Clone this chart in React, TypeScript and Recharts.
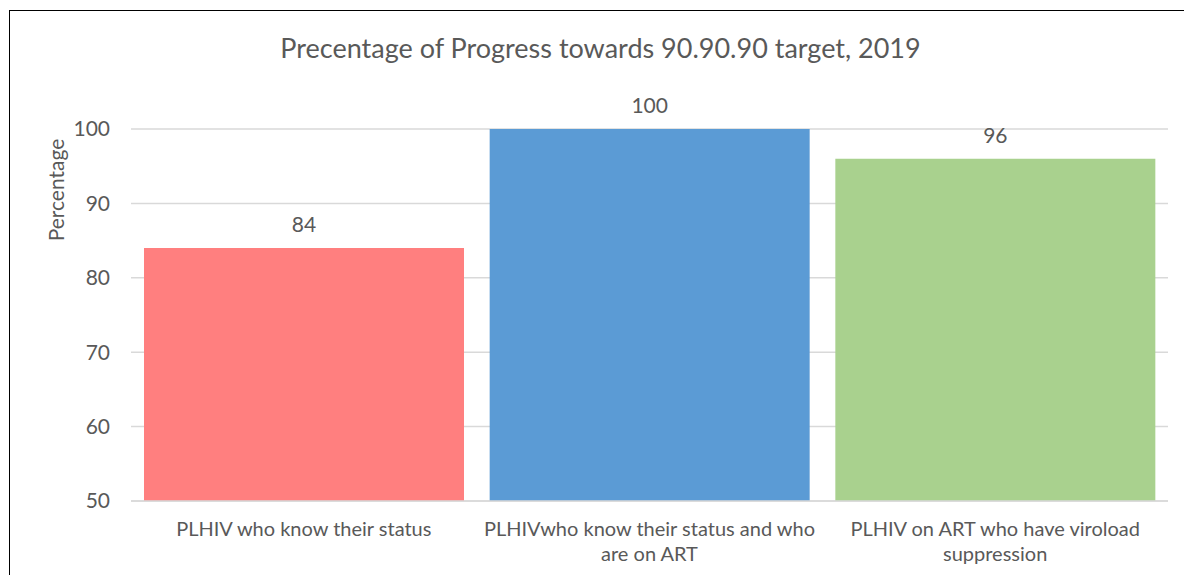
import { Bar, BarChart, CartesianGrid, Cell, LabelList, XAxis, YAxis } from "recharts";

// Progress towards 90.90.90 target, 2019
const categories = [
  "PLHIV who know their status",
  "PLHIVwho know their status and who are on ART",
  "PLHIV on ART who have viroload suppression",
];
const values = [84, 100, 96];
const barColors = ["#FF7F7F", "#5B9BD5", "#A9D18E"];
const yTicks = [50, 60, 70, 80, 90, 100];
// wrapped the way the original axis shows them
const tickLines = [
  ["PLHIV who know their status"],
  ["PLHIVwho know their status and who", "are on ART"],
  ["PLHIV on ART who have viroload", "suppression"],
];

const FONT = "Lato, 'Open Sans', sans-serif";
const TEXT = "#595959";

const data = categories.map((name, i) => ({ name, value: values[i] }));

function CategoryTick({ x, y, index }: any) {
  const lines = tickLines[index] ?? [];
  return (
    <text x={x} y={y + 27} textAnchor="middle" fill={TEXT} fontSize={20} fontFamily={FONT}>
      {lines.map((line, i) => (
        <tspan key={i} x={x} dy={i === 0 ? 0 : 25}>
          {line}
        </tspan>
      ))}
    </text>
  );
}

export default function App() {
  return (
    <div
      style={{
        position: "absolute",
        left: 0,
        top: 0,
        width: 1184,
        height: 575,
        overflow: "hidden",
        background: "#fff",
      }}
    >
      <div
        style={{
          position: "absolute",
          left: 9,
          top: 10,
          width: 1200,
          height: 600,
          border: "1px solid #000",
        }}
      />
      <div style={{ position: "absolute", left: 0, top: 0 }}>
        <BarChart
          width={1184}
          height={575}
          data={data}
          margin={{ top: 129, right: 16, bottom: 14, left: 71 }}
          barCategoryGap={13}
        >
          <CartesianGrid vertical={false} stroke="#D9D9D9" strokeWidth={1.5} />
          <XAxis
            dataKey="name"
            height={60}
            interval={0}
            tickLine={false}
            axisLine={{ stroke: "#D9D9D9", strokeWidth: 1.5 }}
            tick={<CategoryTick />}
          />
          <YAxis
            width={60}
            domain={[50, 100]}
            ticks={yTicks}
            axisLine={false}
            tickLine={false}
            tickMargin={15}
            tick={{ fill: TEXT, fontSize: 21, fontFamily: FONT }}
          />
          <Bar dataKey="value" isAnimationActive={false}>
            {data.map((d, i) => (
              <Cell key={d.name} fill={barColors[i]} />
            ))}
            <LabelList
              dataKey="value"
              position="top"
              offset={16}
              fill={TEXT}
              fontSize={21}
              fontFamily={FONT}
            />
          </Bar>
        </BarChart>
      </div>
      <svg
        width={1184}
        height={575}
        style={{ position: "absolute", left: 0, top: 0, pointerEvents: "none" }}
      >
        <text x={600.5} y={58} textAnchor="middle" fill={TEXT} fontSize={27} fontFamily={FONT}>
          Precentage of Progress towards 90.90.90 target, 2019
        </text>
        <text
          x={64}
          y={190}
          transform="rotate(-90 64 190)"
          textAnchor="middle"
          fill={TEXT}
          fontSize={21}
          fontFamily={FONT}
        >
          Percentage
        </text>
      </svg>
    </div>
  );
}
